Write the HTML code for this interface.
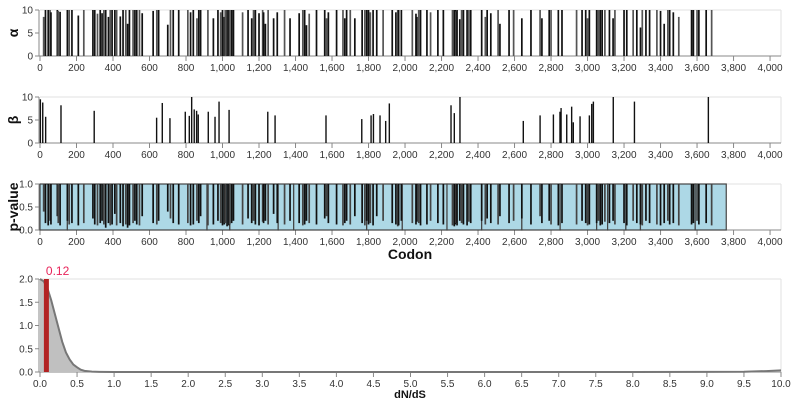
<!DOCTYPE html>
<html><head><meta charset="utf-8"><style>
body{margin:0;background:#fff}
svg{display:block;font-family:"Liberation Sans",Arial,sans-serif}
.tk{font-size:10px;fill:#333}
.ttl{font-weight:bold;fill:#111}
</style></head><body>
<svg id="chart" width="792" height="408"></svg>
<script>
const alphaCodons=[20,30,45,55,60,95,100,110,150,160,175,210,240,290,300,315,330,340,350,360,375,385,395,410,420,440,455,470,480,490,510,520,530,545,560,620,640,650,700,715,730,760,810,825,840,860,870,880,920,950,975,990,1000,1010,1015,1025,1035,1040,1050,1060,1110,1140,1160,1170,1180,1200,1220,1225,1235,1250,1280,1300,1340,1370,1420,1440,1450,1460,1475,1515,1560,1570,1580,1625,1660,1670,1680,1700,1725,1765,1780,1790,1800,1810,1825,1845,1880,1930,1950,1960,1965,1980,2040,2060,2065,2075,2085,2120,2140,2180,2210,2260,2270,2275,2280,2285,2300,2310,2320,2340,2350,2360,2420,2440,2450,2470,2510,2520,2570,2595,2640,2690,2740,2750,2790,2800,2840,2860,2940,2970,2990,3000,3010,3050,3060,3070,3080,3095,3120,3140,3150,3200,3215,3250,3270,3290,3300,3320,3340,3380,3400,3420,3440,3450,3470,3500,3570,3580,3600,3610,3650,3680];
const alphaValues=[8.5,10,10,10,9.5,10,9.8,9.6,10,10,10,8.8,10,10,10,9.2,10,9.3,10,10,8.5,10,10,10,10,8.6,10,10,7,10,10,10,10,10,9.3,9.8,10,10,6.8,10,10,10,10,9.5,10,8.2,10,10,10,8.2,10,9.5,10,8.5,10,10,10,10,10,10,9.5,10,8.2,10,10,9.3,10,9.5,7,10,8.2,9.5,10,8.2,9.3,10,10,6.7,9.2,10,10,8.2,9.5,10,10,8.2,10,10,8.2,10,10,10,10,9.5,10,10,10,10,9.5,10,10,10,10,9.2,8.5,10,10,10,9.5,10,10,10,10,10,9.7,10,8,10,10,10,10,10,10,8.5,10,9.3,10,7,10,10,8.2,10,10,8.2,10,10,10,10,10,10,10,8.2,10,10,10,10,10,10,10,8.2,10,10,10,10,10,6.2,10,10,10,10,9.8,7,10,10,9.5,8.5,10,10,10,10,10,10,9.5,10,10,10,10];
const pValues=[0.4,0.15,0.1,0.2,0.12,0.3,0.15,0.1,0.2,0.12,0.15,0.1,0.15,0.25,0.12,0.1,0.15,0.2,0.12,0.05,0.15,0.1,0.12,0.35,0.1,0.15,0.08,0.12,0.05,0.1,0.15,0.2,0.12,0.1,0.3,0.15,0.12,0.2,0.4,0.25,0.15,0.12,0.15,0.1,0.12,0.2,0.15,0.3,0.1,0.12,0.2,0.15,0.1,0.12,0.15,0.08,0.1,0.12,0.15,0.2,0.12,0.25,0.15,0.2,0.12,0.1,0.18,0.15,0.2,0.12,0.35,0.15,0.12,0.2,0.15,0.1,0.12,0.2,0.15,0.12,0.25,0.3,0.15,0.12,0.1,0.15,0.2,0.12,0.3,0.15,0.1,0.2,0.12,0.15,0.1,0.3,0.2,0.15,0.12,0.08,0.1,0.2,0.15,0.12,0.18,0.15,0.1,0.12,0.2,0.15,0.12,0.1,0.08,0.12,0.15,0.1,0.2,0.15,0.12,0.1,0.18,0.15,0.2,0.12,0.25,0.15,0.12,0.3,0.15,0.2,0.25,0.12,0.3,0.15,0.2,0.12,0.1,0.15,0.12,0.2,0.15,0.1,0.12,0.15,0.2,0.1,0.12,0.18,0.15,0.2,0.12,0.15,0.1,0.2,0.15,0.12,0.1,0.2,0.15,0.12,0.1,0.15,0.2,0.12,0.15,0.1,0.12,0.15,0.2,0.12,0.15,0.1];
const betaCodons=[2,15,31,115,297,639,670,712,796,818,831,845,858,867,922,959,981,1036,1248,1288,1567,1763,1814,1827,1863,1894,1914,2252,2270,2301,2648,2740,2813,2849,2855,2886,2913,2922,2959,3010,3023,3032,3141,3257,3662];
const betaValues=[9.5,8.8,5.7,8.2,7,5.5,8.7,5.4,6.8,5.9,10,7.3,7,6.2,6.8,5.7,9,7.2,6.8,6,6,5.2,6,6.3,6,4.8,8.6,8.2,6.5,10,4.8,6,6.2,6.8,7.6,6.2,7.9,4.5,5.8,6,8.5,9,10,9,10];
const segBounds=[0,150,915,1040,1305,1390,1790,1985,2230,2420,2640,2850,3050,3110,3210,3290,3590,3760];
const xTicks=[0,200,400,600,800,1000,1200,1400,1600,1800,2000,2200,2400,2600,2800,3000,3200,3400,3600,3800,4000];
const dX=[0,0.05,0.1,0.15,0.2,0.25,0.3,0.35,0.4,0.45,0.5,0.55,0.6,0.7,0.8,1,2,4,6,8,9,9.5,9.8,10];
const dY=[2,1.95,1.8,1.55,1.25,0.95,0.65,0.42,0.27,0.16,0.1,0.05,0.025,0.008,0.003,0,0,0,0,0,0.002,0.006,0.02,0.035];
const meanRate=[0.12];
const dTicks=[0,0.5,1,1.5,2,2.5,3,3.5,4,4.5,5,5.5,6,6.5,7,7.5,8,8.5,9,9.5,10];

const svg=document.getElementById('chart');
const NS='http://www.w3.org/2000/svg';
function mk(tag,attrs,parent){const e=document.createElementNS(NS,tag);for(const k in attrs)e.setAttribute(k,attrs[k]);(parent||svg).appendChild(e);return e;}
const X0=40,X1=781;
const xc=c=>X0+c*(X1-X0)/4060;
function fmt(n){return n.toLocaleString('en-US');}

function frame(top,bot,yTicks,yLab,title,ticks,xf,tf,name){
  const g=mk('g',{});
  
  
  mk('line',{x1:X0,x2:X1,y1:top,y2:top,stroke:'#e2e2e2'},g);
  mk('line',{x1:X1,x2:X1,y1:top,y2:bot,stroke:'#e2e2e2'},g);
  mk('line',{x1:X0-1,x2:X0-1,y1:top,y2:bot,stroke:'#888'},g);
  mk('line',{x1:X0-1,x2:X1,y1:bot,y2:bot,stroke:'#888'},g);
  yTicks.forEach((v,i)=>{const y=bot-(bot-top)*i/(yTicks.length-1);
    mk('line',{x1:X0-5,x2:X0-1,y1:y,y2:y,stroke:'#888'},g);
    const t=mk('text',{x:X0-7,y:y+3.5,'text-anchor':'end',class:'tk'},g);t.textContent=yLab(v);});
  ticks.forEach(v=>{const x=xf(v);
    mk('line',{x1:x,x2:x,y1:bot,y2:bot+5,stroke:'#888'},g);
    const t=mk('text',{x:x,y:bot+15,'text-anchor':'middle',class:'tk'},g);t.textContent=tf(v);});
  const tt=mk('text',{x:0,y:0,transform:`translate(${X0-22},${(top+bot)/2}) rotate(-90)`,'text-anchor':'middle',class:'ttl','font-size':'14'},g);
  
  
  tt.textContent=title;
  return g;
}
const A={top:10,bot:56};
const gA=frame(A.top,A.bot,[0,5,10],v=>v,'α',xTicks,xc,fmt,'alpha-panel');
alphaCodons.forEach((c,i)=>{const l=mk('line',{x1:xc(c),x2:xc(c),y1:A.bot,y2:A.bot-(A.bot-A.top)*alphaValues[i]/10,stroke:i%3?'#111':'#555','stroke-width':1.7},gA);
  
  });
const B={top:97,bot:143};
const gB=frame(B.top,B.bot,[0,5,10],v=>v,'β',xTicks,xc,fmt,'beta-panel');
betaCodons.forEach((c,i)=>{const l=mk('line',{x1:xc(c),x2:xc(c),y1:B.bot,y2:B.bot-(B.bot-B.top)*betaValues[i]/10,stroke:'#111','stroke-width':1.4},gB);
  
  });
const P={top:184,bot:230};
const gP=frame(P.top,P.bot,[0,0.5,1],v=>v.toFixed(1),'p-value',xTicks,xc,fmt,'pvalue-panel');
for(let i=0;i<segBounds.length-1;i++){const r=mk('rect',{x:xc(segBounds[i]),y:P.top,width:xc(segBounds[i+1])-xc(segBounds[i]),height:P.bot-P.top,fill:'#add8e6',stroke:'#444','stroke-width':1.2},gP);
  
  }
alphaCodons.forEach((c,i)=>{const l=mk('line',{x1:xc(c),x2:xc(c),y1:P.top,y2:P.bot-(P.bot-P.top)*pValues[i],stroke:i%3?'#111':'#444','stroke-width':1.7},gP);
  
  });
const cod=mk('text',{x:410,y:259,'text-anchor':'middle',class:'ttl','font-size':'14'});


cod.textContent='Codon';
const D={top:279,bot:372};
const dxc=v=>X0+v*(X1-X0)/10;
const dyc=v=>D.bot-(D.bot-D.top)*v/2;
const gD=frame(D.top,D.bot,[0,0.5,1,1.5,2],v=>v.toFixed(1),'',dTicks,dxc,v=>v.toFixed(1),'density-panel');
let p='M'+dxc(dX[0])+','+D.bot;
dX.forEach((v,i)=>{p+='L'+dxc(v)+','+dyc(dY[i]);});
p+='L'+dxc(dX[dX.length-1])+','+D.bot+'Z';
const area=mk('path',{d:p,fill:'#c0c0c0',stroke:'none'},gD);


const line=mk('path',{d:'M'+dX.map((v,i)=>dxc(v)+','+dyc(dY[i])).join('L'),fill:'none',stroke:'#777','stroke-width':2},gD);


meanRate.forEach(m=>{
  const r=mk('rect',{x:dxc(m)-5,y:D.top,width:5,height:D.bot-D.top,fill:'#b22222'},gD);
  
  
  const t=mk('text',{x:dxc(m)-3,y:D.top-4,fill:'#e8245a','font-size':'12'},gD);
  
  
  t.textContent=m.toFixed(2);
});
const dn=mk('text',{x:410,y:398,'text-anchor':'middle',class:'ttl','font-size':'11'});


dn.textContent='dN/dS';
</script>
</body></html>
